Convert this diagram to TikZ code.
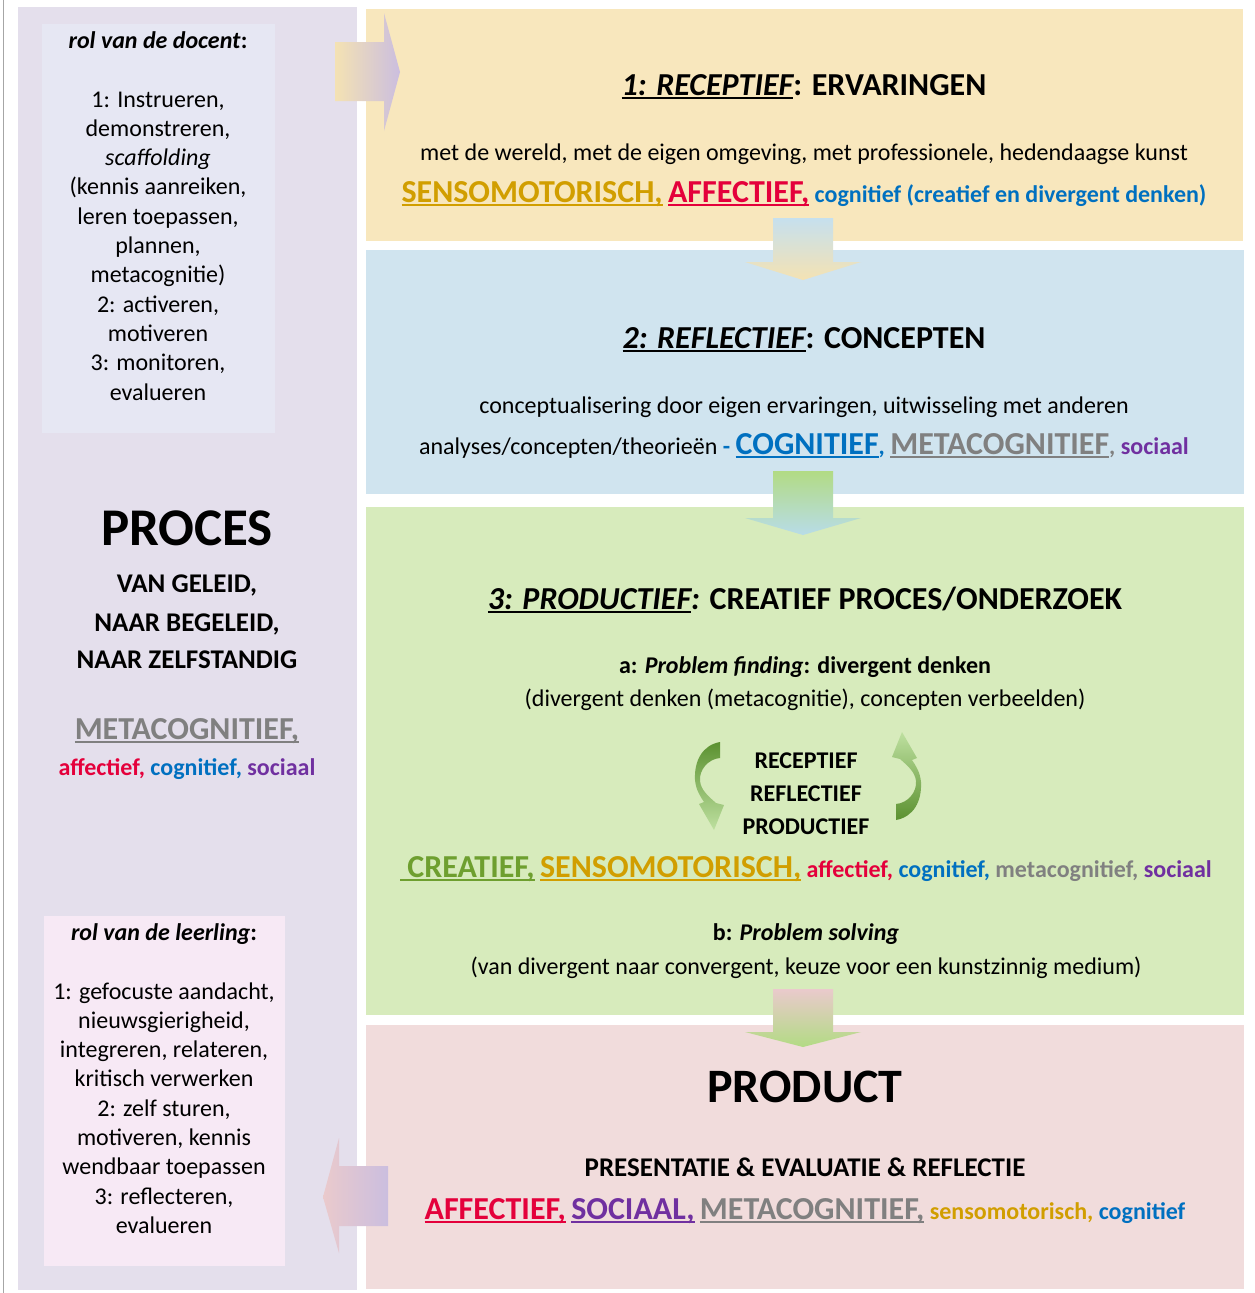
\documentclass[tikz,border=0pt]{standalone}
\usepackage{fontspec}
\setmainfont{Carlito}

\definecolor{panel}{HTML}{E4DFEC}
\definecolor{docentbg}{HTML}{E6E7F3}
\definecolor{leerlingbg}{HTML}{F7E9F5}
\definecolor{yellowbg}{HTML}{F8E7BD}
\definecolor{bluebg}{HTML}{D0E4EF}
\definecolor{greenbg}{HTML}{D7EBBC}
\definecolor{pinkbg}{HTML}{F1DCDC}
\definecolor{arrowyellow}{HTML}{F4E2B3}
\definecolor{arrowlilac}{HTML}{CBBEDF}
\definecolor{arrowsky}{HTML}{C6E0EE}
\definecolor{arrowblue}{HTML}{B8DCE8}
\definecolor{arrowgreen}{HTML}{B2DB84}
\definecolor{arrowpink}{HTML}{EACACC}
\definecolor{kwgold}{HTML}{D19E00}
\definecolor{kwred}{HTML}{E4003B}
\definecolor{kwblue}{HTML}{0070C0}
\definecolor{kwgray}{HTML}{808080}
\definecolor{kwpurple}{HTML}{7030A0}
\definecolor{kwgreen}{HTML}{6E9F2F}
\definecolor{curldark}{HTML}{5B9130}
\definecolor{curllight}{HTML}{BEE0A0}

% underlined word, rule in the current colour
\newcommand{\uword}[1]{\setbox0\hbox{#1}\rlap{\rule[-3.5pt]{\wd0}{1.8pt}}\box0}

% coloured key words
\newcommand{\kwbig}[2]{{\fontsize{32}{32}\selectfont\bfseries\color{#1}\uword{#2}}}
\newcommand{\kwsmall}[2]{{\fontsize{24}{24}\selectfont\bfseries\color{#1}#2}}

\begin{document}
\begin{tikzpicture}[x = 1pt, y = -1pt,
	body/.style = {font = \fontsize{24}{29}\selectfont, inner sep = 0pt, anchor = base},
	boldline/.style = {body, font = \fontsize{24}{29}\selectfont\bfseries},
	capsline/.style = {body, font = \fontsize{27}{32}\selectfont\bfseries},
	heading/.style = {body, font = \fontsize{32}{38}\selectfont\bfseries},
	bigtitle/.style = {body, font = \fontsize{53}{53}\selectfont\bfseries}]

	\useasboundingbox (0, 0) rectangle (1255, 1293);

	% Panels

	\draw [gray!70, line width = 1pt] (3, 0) -- (3, 1293);
	\fill [panel] (18, 7) rectangle (357, 1290);
	\fill [docentbg] (42, 24) rectangle (275, 433);
	\fill [leerlingbg] (44, 916) rectangle (285, 1266);

	\fill [yellowbg] (366, 9) rectangle (1243, 241);
	\fill [bluebg] (366, 250) rectangle (1244, 494);
	\fill [greenbg] (366, 507) rectangle (1244, 1015);
	\fill [pinkbg] (366, 1025) rectangle (1244, 1289);

	% Block arrows

	\shade [left color = arrowyellow, right color = arrowlilac] (335, 42) -- (384, 42) -- (384, 13) -- (400, 72) -- (384, 131) -- (384, 101) -- (335, 101) -- cycle;
	\shade [left color = arrowpink, right color = arrowlilac] (388, 1166) -- (339, 1166) -- (339, 1138) -- (323, 1197) -- (339, 1253) -- (339, 1226) -- (388, 1226) -- cycle;

	\shade [top color = arrowsky, bottom color = arrowyellow] (773, 218) -- (833, 218) -- (833, 262) -- (861, 262) -- (803, 280) -- (745, 262) -- (773, 262) -- cycle;
	\shade [top color = arrowgreen, bottom color = arrowblue] (773, 471) -- (833, 471) -- (833, 518) -- (861, 518) -- (803, 535) -- (745, 518) -- (773, 518) -- cycle;
	\shade [top color = arrowpink, bottom color = arrowgreen] (773, 989) -- (833, 989) -- (833, 1032) -- (861, 1032) -- (803, 1047) -- (745, 1032) -- (773, 1032) -- cycle;

	% Left column

	\node [body] (docent) at (158, 48) {\textbf{\textit{rol van de docent}:}};
	\foreach \txt [count = \i from 0] in {{1: Instrueren,}, {demonstreren,}, {\textit{scaffolding}}, {(kennis aanreiken,}, {leren toepassen,}, {plannen,}, {metacognitie)}, {2: activeren,}, {motiveren}, {3: monitoren,}, {evalueren}}
		\node [body] (docent-\i) at (158, 107 + 29.3 * \i) {\txt};

	\node [bigtitle] (proces) at (187, 545) {PROCES};
	\node [capsline] (geleid) at (187, 592) {VAN GELEID,};
	\node [capsline] (begeleid) at (187, 631) {NAAR BEGELEID,};
	\node [capsline] (zelfstandig) at (187, 668) {NAAR ZELFSTANDIG};
	\node [body] (proces-meta) at (187, 739) {\kwbig{kwgray}{METACOGNITIEF,}};
	\node [body] (proces-rest) at (187, 775) {\kwsmall{kwred}{affectief,} \kwsmall{kwblue}{cognitief,} \kwsmall{kwpurple}{sociaal}};

	\node [body] (leerling) at (164, 940) {\textbf{\textit{rol van de leerling}:}};
	\foreach \txt [count = \i from 0] in {{1: gefocuste aandacht,}, {nieuwsgierigheid,}, {integreren, relateren,}, {kritisch verwerken}, {2: zelf sturen,}, {motiveren, kennis}, {wendbaar toepassen}, {3: reflecteren,}, {evalueren}}
		\node [body] (leerling-\i) at (164, 999 + 29.3 * \i) {\txt};

	% 1: receptief

	\node [heading] (receptief) at (804, 95) {\textit{\uword{1: RECEPTIEF}}: ERVARINGEN};
	\node [body] (receptief-1) at (804, 160) {met de wereld, met de eigen omgeving, met professionele, hedendaagse kunst};
	\node [body] (receptief-2) at (804, 202) {\kwbig{kwgold}{SENSOMOTORISCH,} \kwbig{kwred}{AFFECTIEF,} \kwsmall{kwblue}{cognitief (creatief en divergent denken)}};

	% 2: reflectief

	\node [heading] (reflectief) at (804, 348) {\textit{\uword{2: REFLECTIEF}}: CONCEPTEN};
	\node [body] (reflectief-1) at (804, 413) {conceptualisering door eigen ervaringen, uitwisseling met anderen};
	\node [body] (reflectief-2) at (804, 454) {analyses/concepten/theorieën \kwsmall{kwblue}{-} \kwbig{kwblue}{COGNITIEF}\kwsmall{kwblue}{,} \kwbig{kwgray}{METACOGNITIEF}\kwsmall{kwgray}{,} \kwsmall{kwpurple}{sociaal}};

	% 3: productief

	\node [heading] (productief) at (805, 609) {\textit{\uword{3: PRODUCTIEF}:} CREATIEF PROCES/ONDERZOEK};
	\node [boldline] (finding) at (805, 673) {a: \textit{Problem finding}: divergent denken};
	\node [body] (finding-1) at (805, 706) {(divergent denken (metacognitie), concepten verbeelden)};
	\node [boldline] (cycle-1) at (806, 768) {RECEPTIEF};
	\node [boldline] (cycle-2) at (806, 801) {REFLECTIEF};
	\node [boldline] (cycle-3) at (806, 834) {PRODUCTIEF};
	\node [body] (productief-2) at (806, 877) {\kwbig{kwgreen}{\ CREATIEF,} \kwbig{kwgold}{SENSOMOTORISCH,} \kwsmall{kwred}{affectief,} \kwsmall{kwblue}{cognitief,} \kwsmall{kwgray}{metacognitief,} \kwsmall{kwpurple}{sociaal}};
	\node [boldline] (solving) at (806, 940) {b: \textit{Problem solving}};
	\node [body] (solving-1) at (806, 974) {(van divergent naar convergent, keuze voor een kunstzinnig medium)};

	% Curved arrows

	\shade [top color = curldark, bottom color = curllight] (720, 742) .. controls (703, 745) and (694, 760) .. (695, 780) .. controls (696, 790) and (700, 796) .. (704, 802) -- (699, 804) -- (714, 830) -- (724, 805) -- (716, 803) .. controls (708, 796) and (701, 790) .. (700, 781) .. controls (699, 770) and (708, 759) .. (720, 758) -- cycle;
	\shade [top color = curllight, bottom color = curldark] (896, 820) .. controls (913, 817) and (922, 802) .. (921, 782) .. controls (920, 772) and (916, 766) .. (912, 760) -- (917, 758) -- (902, 732) -- (892, 757) -- (900, 759) .. controls (908, 766) and (915, 772) .. (916, 781) .. controls (917, 792) and (908, 803) .. (896, 804) -- cycle;

	% Product

	\node [bigtitle, font = \fontsize{48}{48}\selectfont\bfseries] (product) at (805, 1102) {PRODUCT};
	\node [capsline] (presentatie) at (805, 1176) {PRESENTATIE \& EVALUATIE \& REFLECTIE};
	\node [body] (product-2) at (805, 1219) {\kwbig{kwred}{AFFECTIEF,} \kwbig{kwpurple}{SOCIAAL,} \kwbig{kwgray}{METACOGNITIEF,} \kwsmall{kwgold}{sensomotorisch,} \kwsmall{kwblue}{cognitief}};

\end{tikzpicture}
\end{document}
